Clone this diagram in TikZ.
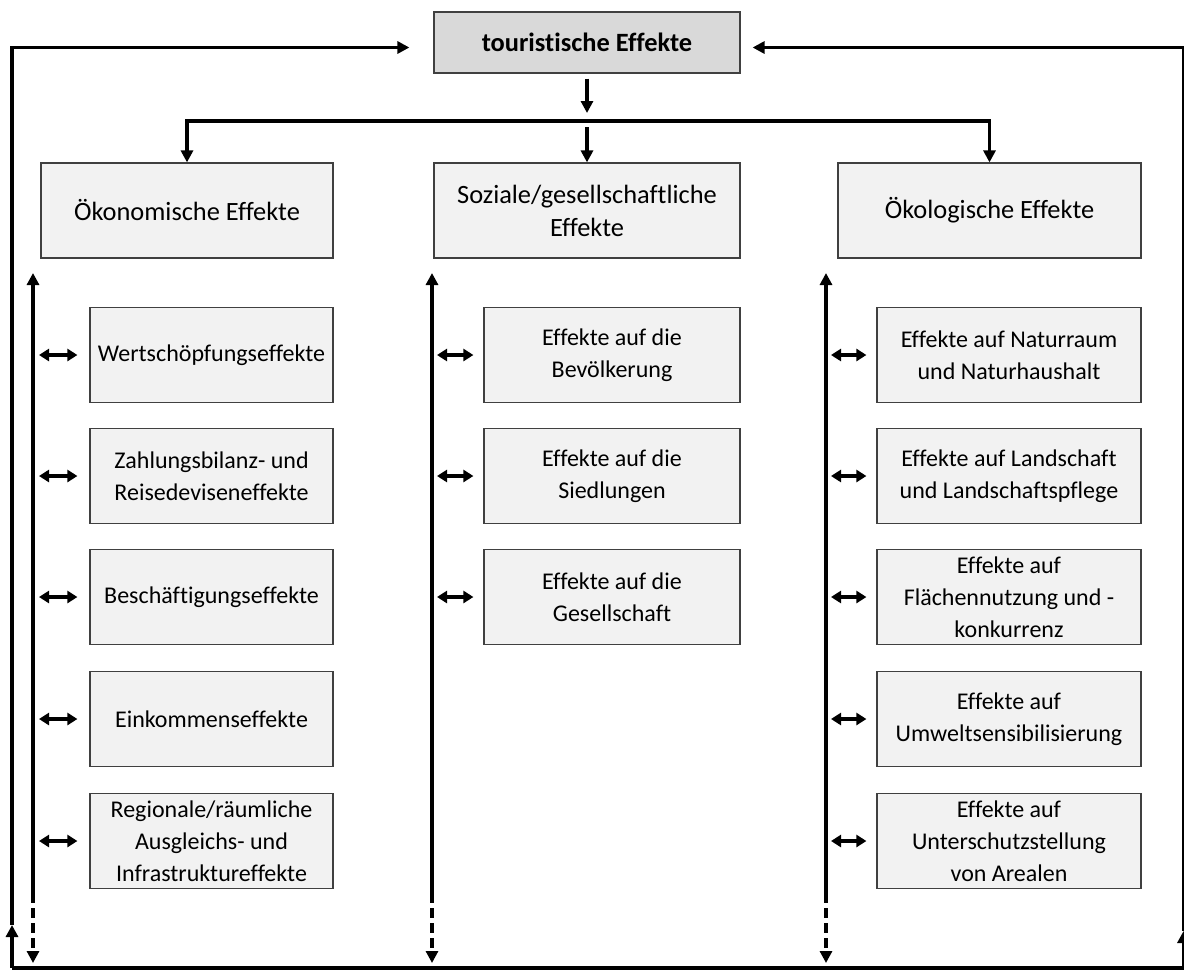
\documentclass[tikz,border=0pt]{standalone}
\usepackage{fontspec}
\setmainfont{Carlito}[Ligatures=NoCommon]
\usetikzlibrary{arrows.meta}

\begin{document}
\begin{tikzpicture}[x=0.5pt,y=-0.5pt,
        box/.style={draw=black!75,line width=0.6pt,fill=black!5,align=center,inner sep=0pt,
            minimum height=47.5pt,font=\fontsize{12}{16}\selectfont},
        ecol/.style={box,minimum width=121.5pt},
        scol/.style={box,minimum width=128pt},
        ocol/.style={box,minimum width=132pt},
        bigarrow/.style={line width=1.6pt,-{Triangle[width=6pt,length=6pt]}},
        dblarrow/.style={line width=1.6pt,{Triangle[width=6pt,length=5pt]}-{Triangle[width=6pt,length=5pt]},
            shorten <=2.5pt,shorten >=5pt},
        dashline/.style={bigarrow,dash pattern=on 5pt off 2.5pt}]
    \useasboundingbox (0,0) rectangle (1184,970);

    \node[box,fill=black!15,minimum width=153pt,minimum height=30.5pt,font=\fontsize{13.2}{16}\selectfont\bfseries]
        at (587,42.5) (top) {touristische Effekte};
    \node[box,minimum width=146pt,font=\fontsize{13.2}{16.5}\selectfont] at (187,210.5) (econ) {Ökonomische Effekte};
    \node[box,minimum width=153pt,font=\fontsize{13.2}{16.5}\selectfont] at (587,210.5) (soz) {Soziale/gesellschaftliche\\Effekte};
    \node[box,minimum width=151.5pt,font=\fontsize{13.2}{16.5}\selectfont] at (989.5,210.5) (oeko) {Ökologische Effekte};

    \node[ecol] at (211.5,355) (e1) {Wertschöpfungseffekte};
    \node[ecol] at (211.5,476) (e2) {Zahlungsbilanz- und\\Reisedeviseneffekte};
    \node[ecol] at (211.5,597) (e3) {Beschäftigungseffekte};
    \node[ecol] at (211.5,719) (e4) {Einkommenseffekte};
    \node[ecol] at (211.5,841) (e5) {Regionale/räumliche\\Ausgleichs- und\\Infrastruktureffekte};

    \node[scol] at (612,355) (s1) {Effekte auf die\\Bevölkerung};
    \node[scol] at (612,476) (s2) {Effekte auf die\\Siedlungen};
    \node[scol] at (612,597) (s3) {Effekte auf die\\Gesellschaft};

    \node[ocol] at (1009,355) (o1) {Effekte auf Naturraum\\und Naturhaushalt};
    \node[ocol] at (1009,476) (o2) {Effekte auf Landschaft\\und Landschaftspflege};
    \node[ocol] at (1009,597) (o3) {Effekte auf\\Flächennutzung und -\\konkurrenz};
    \node[ocol] at (1009,719) (o4) {Effekte auf\\Umweltsensibilisierung};
    \node[ocol] at (1009,841) (o5) {Effekte auf\\Unterschutzstellung\\von Arealen};

    % top down
    \coordinate (bar) at (587,121);
    \draw[bigarrow,shorten <=2.5pt,shorten >=4pt] (top.south) -- (bar);
    \draw[bigarrow] (bar) -| (econ.north);
    \draw[bigarrow] (bar) -| (oeko.north);
    \draw[bigarrow,shorten <=3pt] (bar) -- (soz.north);

    % outer loop
    \coordinate (bl) at (12,968);
    \coordinate (br) at (1183.5,968);
    \coordinate (lup) at (12,925);
    \coordinate (rup) at (1183.5,931);
    \draw[line width=1.6pt] (bl) -- (br);
    \draw[bigarrow] (bl) -- (lup);
    \draw[bigarrow] (br) -- (rup);
    \draw[bigarrow,shorten >=12pt] (lup) |- ([yshift=-2.5pt]top.west);
    \draw[bigarrow,shorten >=6pt] (rup) |- ([yshift=-2.5pt]top.east);

    % column lines
    \coordinate (etop) at (33,273);
    \coordinate (emid) at (33,893);
    \coordinate (ebot) at (33,963);
    \coordinate (stop) at (432,273);
    \coordinate (smid) at (432,893);
    \coordinate (sbot) at (432,963);
    \coordinate (otop) at (826,273);
    \coordinate (omid) at (826,893);
    \coordinate (obot) at (826,963);
    \draw[bigarrow] (emid) -- (etop);
    \draw[dashline] (emid) -- (ebot);
    \draw[bigarrow] (smid) -- (stop);
    \draw[dashline] (smid) -- (sbot);
    \draw[bigarrow] (omid) -- (otop);
    \draw[dashline] (omid) -- (obot);

    \draw[dblarrow,shorten <=3pt,shorten >=6pt] (e1.west -| etop) -- (e1.west);
    \draw[dblarrow,shorten <=3pt,shorten >=6pt] (e2.west -| etop) -- (e2.west);
    \draw[dblarrow,shorten <=3pt,shorten >=6pt] (e3.west -| etop) -- (e3.west);
    \draw[dblarrow,shorten <=3pt,shorten >=6pt] (e4.west -| etop) -- (e4.west);
    \draw[dblarrow,shorten <=3pt,shorten >=6pt] (e5.west -| etop) -- (e5.west);
    \draw[dblarrow] (s1.west -| stop) -- (s1.west);
    \draw[dblarrow] (s2.west -| stop) -- (s2.west);
    \draw[dblarrow] (s3.west -| stop) -- (s3.west);
    \draw[dblarrow] (o1.west -| otop) -- (o1.west);
    \draw[dblarrow] (o2.west -| otop) -- (o2.west);
    \draw[dblarrow] (o3.west -| otop) -- (o3.west);
    \draw[dblarrow] (o4.west -| otop) -- (o4.west);
    \draw[dblarrow] (o5.west -| otop) -- (o5.west);
\end{tikzpicture}
\end{document}
